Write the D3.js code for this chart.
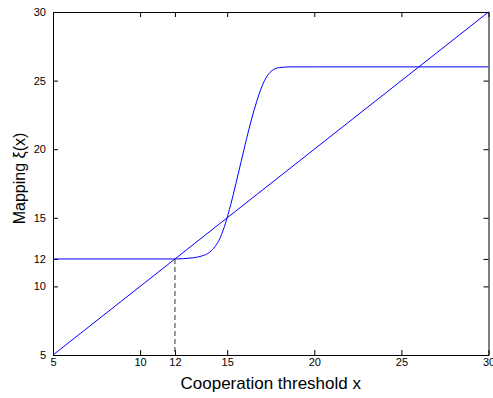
<!DOCTYPE html>
<html>
<head>
<meta charset="utf-8">
<script src="https://cdn.jsdelivr.net/npm/d3@7"></script>
<style>
  body { margin: 0; background: #fff; }
  text { font-family: Arial, "Liberation Sans", sans-serif; }
</style>
</head>
<body>
<script>
// data
const tickValues = [5, 10, 12, 15, 20, 25, 30];
const diagX = [5, 30];
const diagY = [5, 30];
const mapX = [5, 12, 13.0, 13.5, 14.0, 14.3, 14.6, 14.9, 15.2, 15.5, 15.8, 16.1, 16.4, 16.7, 17.0, 17.3, 17.6, 18.0, 18.6, 20, 30];
const mapY = [12, 12, 12.08, 12.2, 12.5, 12.9, 13.55, 14.6, 15.95, 17.5, 19.1, 20.7, 22.2, 23.5, 24.6, 25.35, 25.75, 25.95, 26, 26, 26];
const threshold = 12;

const width = 493, height = 398;
const margin = { top: 12, right: 4.5, bottom: 43, left: 53 };

const svg = d3.select('body')
  .append('svg')
  .attr('width', width)
  .attr('height', height);

const xscale = d3.scaleLinear()
  .domain([5, 30])
  .range([margin.left, width - margin.right]);

const yscale = d3.scaleLinear()
  .domain([5, 30])
  .range([height - margin.bottom, margin.top]);

const x0 = margin.left, x1 = width - margin.right;
const y0 = height - margin.bottom, y1 = margin.top;

// axes, ticks pointing inwards on all four sides
function styleAxis(g) {
  g.selectAll('path, line').attr('stroke', '#000');
  g.selectAll('text').attr('font-size', 11).attr('fill', '#000');
}

svg.append('g')
  .attr('transform', `translate(0, ${y0})`)
  .call(d3.axisBottom(xscale).tickValues(tickValues).tickFormat(d3.format('d'))
    .tickSizeInner(-5).tickSizeOuter(0).tickPadding(3))
  .call(styleAxis);

svg.append('g')
  .attr('transform', `translate(0, ${y1})`)
  .call(d3.axisTop(xscale).tickValues(tickValues).tickFormat('')
    .tickSizeInner(-5).tickSizeOuter(0))
  .call(styleAxis);

svg.append('g')
  .attr('transform', `translate(${x0}, 0)`)
  .call(d3.axisLeft(yscale).tickValues(tickValues).tickFormat(d3.format('d'))
    .tickSizeInner(-5).tickSizeOuter(0).tickPadding(7))
  .call(styleAxis);

svg.append('g')
  .attr('transform', `translate(${x1}, 0)`)
  .call(d3.axisRight(yscale).tickValues(tickValues).tickFormat('')
    .tickSizeInner(-5).tickSizeOuter(0))
  .call(styleAxis);

const line = d3.line()
  .x(d => xscale(d[0]))
  .y(d => yscale(d[1]));

// diagonal y = x
svg.append('path')
  .datum(d3.zip(diagX, diagY))
  .attr('d', line)
  .attr('fill', 'none')
  .attr('stroke', '#0000ff')
  .attr('stroke-width', 1);

// the mapping curve
svg.append('path')
  .datum(d3.zip(mapX, mapY))
  .attr('d', line.curve(d3.curveMonotoneX))
  .attr('fill', 'none')
  .attr('stroke', '#0000ff')
  .attr('stroke-width', 1);

// dashed drop line at the fixed point
svg.append('line')
  .attr('x1', xscale(threshold)).attr('x2', xscale(threshold))
  .attr('y1', yscale(threshold)).attr('y2', yscale(5))
  .attr('stroke', '#333')
  .attr('stroke-width', 1)
  .attr('stroke-dasharray', '5,3');

// axis labels
svg.append('text')
  .text('Cooperation threshold x')
  .attr('x', (x0 + x1) / 2)
  .attr('y', 389)
  .attr('text-anchor', 'middle')
  .attr('font-size', 17);

svg.append('text')
  .text('Mapping ξ(x)')
  .attr('transform', `translate(25, ${(y0 + y1) / 2 - 5}) rotate(-90)`)
  .attr('text-anchor', 'middle')
  .attr('font-size', 16);
</script>
</body>
</html>
